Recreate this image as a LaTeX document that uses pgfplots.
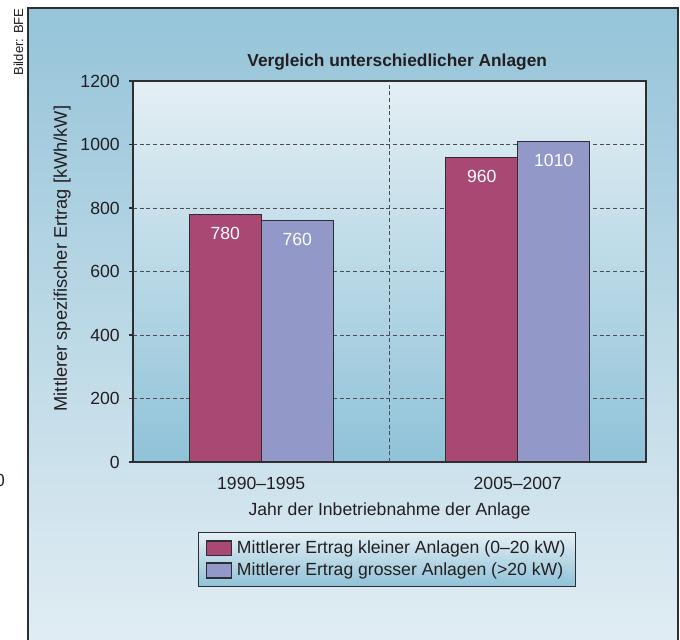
\documentclass[border=0pt]{standalone}
\usepackage{fontspec}
\setmainfont{Liberation Sans}
\usepackage{pgfplots}
\pgfplotsset{compat=1.18}

\definecolor{panelTop}{RGB}{150,196,217}
\definecolor{panelBot}{RGB}{225,237,243}
\definecolor{plotTop}{RGB}{228,239,244}
\definecolor{plotBot}{RGB}{143,194,216}
\definecolor{barRed}{RGB}{168,72,115}
\definecolor{barBlue}{RGB}{146,152,200}
\definecolor{edge}{RGB}{45,45,50}
\definecolor{txt}{RGB}{35,31,32}
\newcommand{\fs}{\fontsize{13.2}{15.5}\selectfont}

\begin{document}
\begin{tikzpicture}
\path[use as bounding box] (0pt,0pt) rectangle (510pt,479.25pt);
\clip (0pt,0pt) rectangle (510pt,479.25pt);
% outer panel
\shade[top color=panelTop, bottom color=panelBot] (21pt,-5pt) rectangle (508.5pt,473.25pt);
\draw[edge, line width=1.1pt] (21pt,-5pt) -- (21pt,473.25pt) -- (508.5pt,473.25pt) -- (508.5pt,-5pt);
\node[rotate=90, font=\fontsize{9.8}{11}\selectfont, txt] at (13.9pt,447.75pt) {Bilder: BFE};
\node[inner sep=0pt, font=\fs, txt] at (0pt,119.25pt) {0};

\begin{axis}[
    at={(99.75pt,132.75pt)}, anchor=south west,
    scale only axis,
    width=384.75pt, height=285.75pt,
    ybar=0pt, bar width=54pt,
    xmin=-0.5, xmax=1.5,
    ymin=0, ymax=1200,
    xtick={0,1},
    xticklabels={1990--1995, 2005--2007},
    ytick={0,200,...,1200},
    ytick pos=left,
    extra x ticks={0.5},
    extra x tick labels={},
    extra x tick style={grid=major},
    ymajorgrids,
    grid style={edge!85, line width=0.7pt, dash pattern=on 3pt off 2pt},
    tick align=outside,
    xtick style={draw=none},
    ytick style={edge, line width=0.8pt},
    major tick length=3pt,
    axis background/.style={top color=plotTop, bottom color=plotBot},
    axis line style={edge, line width=1.1pt},
    tick label style={font=\fs, text=txt},
    /pgf/number format/assume math mode=true,
    /pgf/number format/1000 sep={},
    yticklabel style={xshift=-3.5pt},
    xticklabel style={yshift=-5pt},
    label style={font=\fs, text=txt},
    xlabel={Jahr der Inbetriebnahme der Anlage},
    xlabel style={at={(axis description cs:0.5,-0.128)}, anchor=center},
    ylabel={Mittlerer spezifischer Ertrag [kWh/kW]},
    ylabel style={font=\fontsize{13.7}{16}\selectfont,
                  at={(axis description cs:-0.138,0.534)}, anchor=center, rotate=0},
    every axis title shift=0pt,
    title={Vergleich unterschiedlicher Anlagen},
    title style={font=\bfseries\fontsize{13}{15}\selectfont, text=txt,
                 at={(axis description cs:0.515,1.05)}, anchor=center},
    nodes near coords,
    every node near coord/.append style={font=\fs, text=white, yshift=-22.6pt},
    legend cell align=left,
    legend image code/.code={\draw[#1, line width=0.9pt] (0pt,-5.6pt) rectangle (18.75pt,5.6pt);},
    legend style={at={(axis description cs:0.127,-0.184)}, anchor=north west,
                  draw=edge, line width=0.9pt,
                  top color=plotTop, bottom color=plotBot,
                  font=\fs, text=txt,
                  inner xsep=5.5pt, inner ysep=4.25pt, row sep=1.5pt, column sep=1.5pt},
]
\addplot[fill=barRed, draw=edge, line width=0.9pt] coordinates {(0,780) (1,960)};
\addplot[fill=barBlue, draw=edge, line width=0.9pt] coordinates {(0,760) (1,1010)};
\legend{Mittlerer Ertrag kleiner Anlagen (0--20 kW), Mittlerer Ertrag grosser Anlagen (>20 kW)}
\end{axis}
\end{tikzpicture}
\end{document}
